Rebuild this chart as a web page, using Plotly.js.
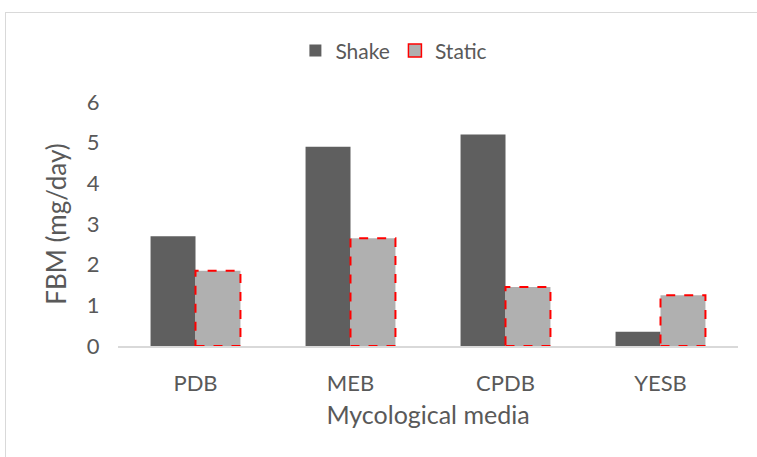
<!DOCTYPE html>
<html>
<head>
<meta charset="utf-8">
<script src="https://cdn.plot.ly/plotly-3.0.1.min.js"></script>
<style>
  html, body { margin: 0; padding: 0; background: #ffffff; }
  #frame { position: absolute; left: 5px; top: 12px; width: 800px; height: 500px; border: 1.5px solid #d9d9d9; box-sizing: border-box; }
  #chart { position: absolute; left: 0; top: 0; width: 757px; height: 457px; }
</style>
</head>
<body>
<div id="frame"></div>
<div id="chart"></div>
<script>
const categories = ["PDB", "MEB", "CPDB", "YESB"];
const shakeValues = [2.7, 4.9, 5.2, 0.35];
const staticValues = [1.85, 2.65, 1.45, 1.25];
const seriesNames = ["Shake", "Static"];

const textColor = "#595959";
const fontFamily = "Lato, 'Open Sans', sans-serif";
const bargap = 0.42;
const barW = (1 - bargap) / 2;

const traces = [
  {
    type: "bar", name: seriesNames[0], x: categories, y: shakeValues,
    marker: { color: "#5f5f5f", line: { width: 0 } }
  },
  {
    type: "bar", name: seriesNames[1], x: categories, y: staticValues,
    marker: { color: "#b0b0b0", line: { width: 0 } }, showlegend: false
  },
  {
    type: "scatter", mode: "markers", name: seriesNames[1], x: [null], y: [null],
    marker: { symbol: "square", size: 13, color: "#b0b0b0", line: { color: "#ff0000", width: 1.5 } }
  }
];

const shapes = staticValues.map((v, i) => ({
  type: "rect", xref: "x", yref: "y",
  x0: i, x1: i + barW, y0: 0, y1: v,
  line: { color: "#ff0000", width: 2, dash: "dash" },
  fillcolor: "rgba(0,0,0,0)", layer: "above"
}));

const layout = {
  width: 757, height: 457,
  margin: { l: 118, r: 19, t: 102, b: 111 },
  paper_bgcolor: "rgba(0,0,0,0)", plot_bgcolor: "rgba(0,0,0,0)",
  font: { family: fontFamily, color: textColor },
  barmode: "group", bargap: bargap, bargroupgap: 0,
  showlegend: true,
  legend: {
    orientation: "h", x: 0.445, xanchor: "center", y: 1.21, yanchor: "middle",
    font: { size: 21, color: textColor }, itemwidth: 30, tracegroupgap: 0
  },
  xaxis: {
    type: "category", showgrid: false, zeroline: false,
    showline: true, linecolor: "#d9d9d9", linewidth: 1.5,
    ticks: "outside", ticklen: 17, tickcolor: "rgba(0,0,0,0)",
    tickfont: { size: 22, color: textColor },
    title: { text: "Mycological media", font: { size: 25, color: textColor }, standoff: 11 }
  },
  yaxis: {
    range: [0, 6], dtick: 1, showgrid: false, zeroline: false, showline: false,
    ticks: "outside", ticklen: 13, tickcolor: "rgba(0,0,0,0)",
    tickfont: { size: 22, color: textColor },
    title: { text: "FBM (mg/day)", font: { size: 26, color: textColor }, standoff: 12 }
  },
  shapes: shapes
};

Plotly.newPlot("chart", traces, layout, { displayModeBar: false, staticPlot: true });
</script>
</body>
</html>
